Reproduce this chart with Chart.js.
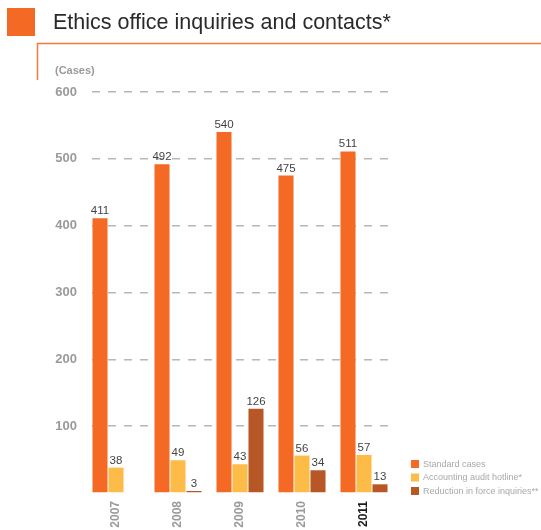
<!DOCTYPE html>
<html>
<head>
<meta charset="utf-8">
<title>Ethics office inquiries and contacts</title>
<script src="https://cdn.jsdelivr.net/npm/chart.js@4/dist/chart.umd.min.js"></script>
<style>
  html, body { margin: 0; padding: 0; background: #fff; }
  #wrap { width: 541px; height: 530px; position: relative; }
</style>
</head>
<body>
<div id="wrap"><canvas id="c" width="541" height="530"></canvas></div>
<script>
const years = ['2007', '2008', '2009', '2010', '2011'];
const standardCases = [411, 492, 540, 475, 511];
const auditHotline = [38, 49, 43, 56, 57];
const reductionInForce = [null, 3, 126, 34, 13];
const seriesNames = ['Standard cases', 'Accounting audit hotline*', 'Reduction in force inquiries**'];
const yTicks = [0, 100, 200, 300, 400, 500, 600];

const COLORS = ['#F46A25', '#FDBB48', '#B85726'];
const FONT = '"Liberation Sans", Arial, Helvetica, sans-serif';

// Heading, frame lines, unit caption and the legend box
const decorations = {
  id: 'decorations',
  afterDraw(chart) {
    const ctx = chart.ctx;
    ctx.save();
    ctx.fillStyle = '#F46A25';
    ctx.fillRect(7, 8, 28, 28);

    ctx.fillStyle = '#2a2a2a';
    ctx.font = '21.5px ' + FONT;
    ctx.textBaseline = 'alphabetic';
    ctx.textAlign = 'left';
    ctx.fillText('Ethics office inquiries and contacts*', 53, 29);

    ctx.strokeStyle = '#F47A3A';
    ctx.lineWidth = 1.5;
    ctx.beginPath();
    ctx.moveTo(541, 43.5);
    ctx.lineTo(37.5, 43.5);
    ctx.lineTo(37.5, 80);
    ctx.stroke();

    ctx.fillStyle = '#9a9a9a';
    ctx.font = 'bold 11px ' + FONT;
    ctx.textBaseline = 'middle';
    ctx.fillText('(Cases)', 55, 71);

    ctx.font = '9px ' + FONT;
    chart.data.datasets.forEach((ds, i) => {
      const y = 460 + i * 13.5;
      ctx.fillStyle = ds.backgroundColor;
      ctx.fillRect(411, y, 8, 8);
      ctx.fillStyle = '#a8a8a8';
      ctx.fillText(ds.label, 423, y + 4.5);
    });
    ctx.restore();
  }
};

// Numbers above each bar
const barValues = {
  id: 'barValues',
  afterDatasetsDraw(chart) {
    const ctx = chart.ctx;
    ctx.save();
    ctx.fillStyle = '#444';
    ctx.font = '11.5px ' + FONT;
    ctx.textAlign = 'center';
    ctx.textBaseline = 'alphabetic';
    chart.data.datasets.forEach((ds, i) => {
      chart.getDatasetMeta(i).data.forEach((bar, j) => {
        const v = ds.data[j];
        if (v === null || v === undefined) return;
        ctx.fillText(String(v), bar.x, bar.y - 4);
      });
    });
    ctx.restore();
  }
};

new Chart(document.getElementById('c'), {
  type: 'bar',
  data: {
    labels: years,
    datasets: [standardCases, auditHotline, reductionInForce].map((vals, i) => ({
      label: seriesNames[i],
      data: vals,
      backgroundColor: COLORS[i],
      borderWidth: 0,
      categoryPercentage: 0.774,
      barPercentage: 0.94
    }))
  },
  options: {
    responsive: false,
    animation: false,
    layout: { padding: { left: 0, right: 146, top: 92, bottom: 0 } },
    plugins: { legend: { display: false }, tooltip: { enabled: false } },
    scales: {
      x: {
        grid: { display: false },
        border: { display: false },
        ticks: {
          minRotation: 90,
          maxRotation: 90,
          padding: 0,
          font: { family: FONT, size: 12, weight: 'bold' },
          color: (c) => (c.index === years.length - 1 ? '#1a1a1a' : '#9a9a9a')
        },
        afterFit(scale) { scale.height = 37; }
      },
      y: {
        min: yTicks[0],
        max: yTicks[yTicks.length - 1],
        afterBuildTicks(scale) { scale.ticks = yTicks.map(v => ({ value: v })); },
        grid: {
          drawTicks: false,
          color: (c) => (c.tick && c.tick.value === 0 ? 'rgba(0,0,0,0)' : '#b8b8b8'),
          lineWidth: 1.5
        },
        border: { display: false, dash: [8, 8], dashOffset: 9 },
        ticks: {
          padding: 8,
          font: { family: FONT, size: 13, weight: 'bold' },
          color: '#9a9a9a',
          callback: (v) => (v === 0 ? '' : String(v))
        },
        afterFit(scale) { scale.width = 85; }
      }
    }
  },
  plugins: [barValues, decorations]
});
</script>
</body>
</html>
